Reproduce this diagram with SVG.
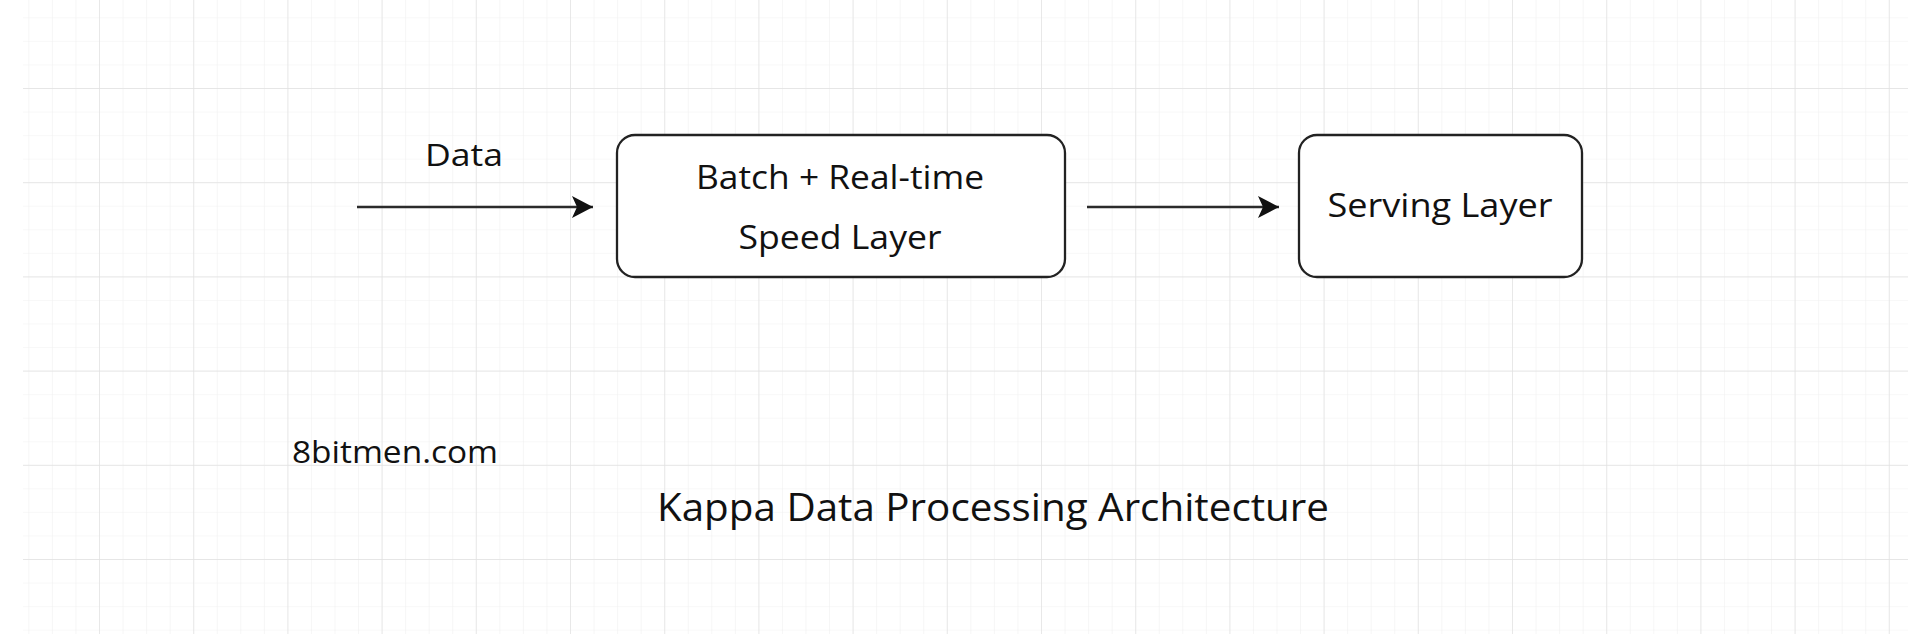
<svg xmlns="http://www.w3.org/2000/svg" width="1908" height="634" viewBox="0 0 1908 634">
  <style>
    .box { fill: #ffffff; stroke: #222222; stroke-width: 2.3; }
    .edge { fill: none; stroke: #2b2b2b; stroke-width: 2.5; }
    .lbl { font-family: "Open Sans", "Noto Sans", "DejaVu Sans", sans-serif; fill: #111111; text-anchor: middle; }
  </style>
  <defs>
    <pattern id="minor" patternUnits="userSpaceOnUse" x="4.8" y="-6.2" width="23.55" height="23.55">
      <path d="M 0 0 L 23.55 0 M 0 0 L 0 23.55" fill="none" stroke="#f1f1f1" stroke-width="1.2"/>
    </pattern>
    <pattern id="major" patternUnits="userSpaceOnUse" x="4.8" y="-6.2" width="94.2" height="94.2">
      <path d="M 0 0 L 94.2 0 M 0 0 L 0 94.2" fill="none" stroke="#e1e1e1" stroke-width="1.3"/>
    </pattern>
    <marker id="arrow" markerUnits="userSpaceOnUse" markerWidth="26" markerHeight="26" refX="21" refY="13" orient="auto">
      <path d="M 0 2 L 21 13 L 0 24 L 5 13 Z" fill="#111111"/>
    </marker>
  </defs>

  <rect x="0" y="0" width="1908" height="634" fill="#ffffff"/>
  <g id="grid">
    <rect x="23" y="0" width="1885" height="634" fill="url(#minor)"/>
    <rect x="23" y="0" width="1885" height="634" fill="url(#major)"/>
  </g>

  <g id="connectors">
    <path class="edge" d="M 357 207 L 593 207" marker-end="url(#arrow)"/>
    <path class="edge" d="M 1087 207 L 1279 207" marker-end="url(#arrow)"/>
    <text class="lbl" x="464" y="166" font-size="31" textLength="78" lengthAdjust="spacingAndGlyphs">Data</text>
  </g>

  <g id="node-speed">
    <rect class="box" x="617" y="135" width="448" height="142" rx="18" ry="18"/>
    <text class="lbl" x="840" y="189" font-size="32" textLength="288" lengthAdjust="spacingAndGlyphs">Batch + Real-time</text>
    <text class="lbl" x="840" y="249" font-size="32" textLength="203" lengthAdjust="spacingAndGlyphs">Speed Layer</text>
  </g>

  <g id="node-serving">
    <rect class="box" x="1299" y="135" width="283" height="142" rx="18" ry="18"/>
    <text class="lbl" x="1440" y="217" font-size="32" textLength="225" lengthAdjust="spacingAndGlyphs">Serving Layer</text>
  </g>

  <g id="footer">
    <text class="lbl" x="395" y="463" font-size="31" textLength="206" lengthAdjust="spacingAndGlyphs">8bitmen.com</text>
    <text class="lbl" x="993" y="521" font-size="39" textLength="672" lengthAdjust="spacingAndGlyphs">Kappa Data Processing Architecture</text>
  </g>
</svg>
